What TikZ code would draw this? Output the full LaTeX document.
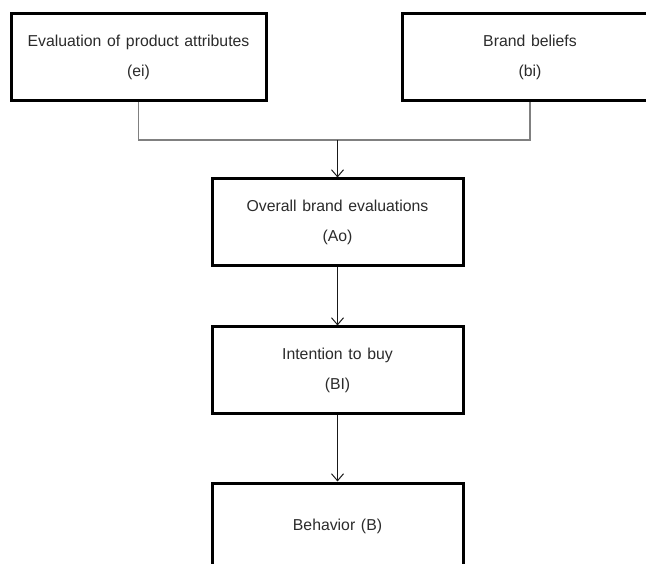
\documentclass[tikz,border=0pt]{standalone}
\usepackage{fontspec}
\setmainfont{Liberation Sans}[WordSpace=1.3]
\usetikzlibrary{arrows.meta}
\definecolor{txt}{HTML}{2B2B2B}
\definecolor{link}{HTML}{808080}
\begin{document}
\begin{tikzpicture}[x=1pt,y=-1pt,
  stage/.style={draw=black, line width=3pt, fill=white, align=center,
    text=txt, minimum height=87pt, inner sep=0pt,
    font=\fontsize{15.8}{30}\selectfont},
  feed/.style={draw=link, line width=1.5pt},
  flow/.style={draw=black!90, line width=1pt,
    -{Straight Barb[length=7pt,width=12pt,line width=1pt]}}]
  \useasboundingbox (0,0) rectangle (646,564);
  \clip (0,0) rectangle (646,564);

  % antecedents
  \node[stage, minimum width=255pt] (ei) at (138.5,57.5)
    {Evaluation of product attributes\\(ei)};
  \node[stage, minimum width=256pt] (bi) at (530,57.5)
    {Brand beliefs\\(bi)};

  % chain of outcomes
  \node[stage, minimum width=251pt] (ao) at (337.5,222.5)
    {Overall brand evaluations\\(Ao)};
  \node[stage, minimum width=251pt, minimum height=86pt] (bI) at (337.5,370)
    {Intention to buy\\(BI)};
  \node[stage, minimum width=251pt] (beh) at (337.5,526.5)
    {Behavior (B)};

  % junction of the two antecedents
  \coordinate (j) at (337.5,140);
  \draw[feed] (ei.south) |- (j) -| (bi.south);

  % arrows
  \draw[flow] (j) -- (ao.north);
  \draw[flow] (ao.south) -- (bI.north);
  \draw[flow] (bI.south) -- (beh.north);
\end{tikzpicture}
\end{document}
